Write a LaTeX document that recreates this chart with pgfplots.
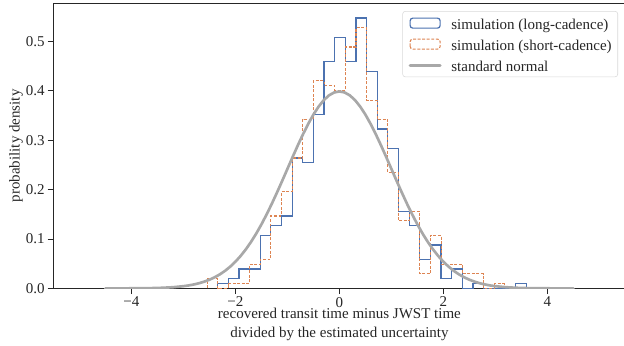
\documentclass[border=0pt]{standalone}
\usepackage{fontspec}
\setmainfont{Liberation Serif}
\usepackage{pgfplots}
\pgfplotsset{compat=1.18}
\usetikzlibrary{calc}
\definecolor{sblue}{HTML}{4C72B0}
\definecolor{sorange}{HTML}{DD8452}
\definecolor{sgray}{HTML}{A8A8A8}
\definecolor{spine}{HTML}{262626}
\pgfplotsset{
  boxlegend/.style={legend image code/.code={\draw[##1, sharp plot] (0pt,-3.75pt) rectangle (22.5pt,3.75pt);}},
  linelegend/.style={legend image code/.code={\draw[##1, line width=2.2pt] (0pt,0pt) -- (22.5pt,0pt);}},
}
\begin{document}
\fontsize{11.25pt}{15.75pt}\selectfont
\begin{tikzpicture}
\begin{axis}[
  scale only axis, width=429pt, height=213.75pt,
  xmin=-5.5, xmax=5.5, ymin=0, ymax=0.5775,
  axis line style={draw=spine, line width=0.75pt},
  tick style={draw=spine, line width=0.75pt},
  tick align=outside, tick pos=left, major tick length=4.3pt,
  xtick={-4,-2,0,2,4}, xticklabels={−4,−2,0,2,4},
  ytick={0,0.1,0.2,0.3,0.4,0.5}, yticklabels={0.0,0.1,0.2,0.3,0.4,0.5},
  xticklabel style={text=spine, inner sep=0pt, yshift=-2pt},
  yticklabel style={text=spine, inner sep=0pt, xshift=-2pt},
  xlabel={recovered transit time minus JWST time\\divided by the estimated uncertainty},
  xlabel style={align=center, text=spine, inner sep=0pt, font=\fontsize{11.25pt}{14pt}\selectfont,
    at={(axis description cs:0.5,-0.1265)}, anchor=center},
  ylabel={probability density},
  ylabel style={text=spine, at={(axis description cs:-0.0652,0.5)}, anchor=center},
  legend cell align=left,
  legend style={at={(axis description cs:1,1)}, anchor=north east, xshift=-5.6pt, yshift=-5.8pt,
    draw=gray!30, rounded corners=2pt, fill=white, inner xsep=4.5pt, inner ysep=2.5pt,
    row sep=3pt, column sep=7.3pt, text=spine, nodes={inner sep=0pt}},
]
\addplot[const plot, draw=sblue, line width=0.9pt, boxlegend]
coordinates {
(-2.34,0) (-2.34,0.0098) (-2.1355,0.0196) (-1.931,0.0391) (-1.7265,0.0391) (-1.522,0.1076)
(-1.3175,0.1271) (-1.113,0.1467) (-0.9085,0.2641) (-0.704,0.2543) (-0.4995,0.3521)
(-0.295,0.4597) (-0.0905,0.5086) (0.114,0.4597) (0.3185,0.5477) (0.523,0.4401)
(0.7275,0.3227) (0.932,0.2836) (1.1365,0.1565) (1.341,0.1271) (1.5455,0.0587)
(1.75,0.0880) (1.9545,0.0196) (2.159,0.0391) (2.3635,0) (2.568,0.0098) (2.7725,0)
(3.386,0.0098) (3.5905,0.0098) (3.5905,0)
};
\addlegendentry{\strut simulation (long-cadence)}
\addplot[const plot, draw=sorange, line width=0.8pt, dash pattern=on 2.2pt off 1.2pt, boxlegend]
coordinates {
(-2.5445,0) (-2.5445,0.0196) (-2.34,0) (-2.1355,0.0098) (-1.931,0.0098) (-1.7265,0.0489)
(-1.522,0.0587) (-1.3175,0.1467) (-1.113,0.1956) (-0.9085,0.2641) (-0.704,0.3423)
(-0.4995,0.4205) (-0.295,0.4108) (-0.0905,0.4010) (0.114,0.4890) (0.3185,0.5281)
(0.523,0.3814) (0.7275,0.3423) (0.932,0.2347) (1.1365,0.1369) (1.341,0.1565)
(1.5455,0.0293) (1.75,0.1076) (1.9545,0.0489) (2.159,0.0489) (2.3635,0.0293)
(2.568,0.0293) (2.7725,0) (2.977,0.0098) (3.1815,0.0098) (3.1815,0)
};
\addlegendentry{\strut simulation (short-cadence)}
\addplot[draw=sgray, line width=2pt, line cap=round, linelegend]
coordinates {
(-4.5,0.000016) (-4.2,0.000059) (-4.0,0.000134) (-3.8,0.000292) (-3.6,0.000612)
(-3.4,0.001232) (-3.2,0.002384) (-3.0,0.004432) (-2.9,0.005953) (-2.8,0.007915)
(-2.7,0.010421) (-2.6,0.013583) (-2.5,0.017528) (-2.4,0.022395) (-2.3,0.028327)
(-2.2,0.035475) (-2.1,0.043984) (-2.0,0.053991) (-1.9,0.065616) (-1.8,0.078950)
(-1.7,0.094049) (-1.6,0.110921) (-1.5,0.129518) (-1.4,0.149727) (-1.3,0.171369)
(-1.2,0.194186) (-1.1,0.217852) (-1.0,0.241971) (-0.9,0.266085) (-0.8,0.289692)
(-0.7,0.312254) (-0.6,0.333225) (-0.5,0.352065) (-0.4,0.368270) (-0.3,0.381388)
(-0.2,0.391043) (-0.1,0.396953) (0,0.398942) (0.1,0.396953) (0.2,0.391043)
(0.3,0.381388) (0.4,0.368270) (0.5,0.352065) (0.6,0.333225) (0.7,0.312254)
(0.8,0.289692) (0.9,0.266085) (1.0,0.241971) (1.1,0.217852) (1.2,0.194186)
(1.3,0.171369) (1.4,0.149727) (1.5,0.129518) (1.6,0.110921) (1.7,0.094049)
(1.8,0.078950) (1.9,0.065616) (2.0,0.053991) (2.1,0.043984) (2.2,0.035475)
(2.3,0.028327) (2.4,0.022395) (2.5,0.017528) (2.6,0.013583) (2.7,0.010421)
(2.8,0.007915) (2.9,0.005953) (3.0,0.004432) (3.2,0.002384) (3.4,0.001232)
(3.6,0.000612) (3.8,0.000292) (4.0,0.000134) (4.2,0.000059) (4.5,0.000016)
};
\addlegendentry{\strut standard normal}
\end{axis}
\pgfresetboundingbox
\useasboundingbox ($(current axis.south west)+(-40pt,-42.5pt)$) rectangle ($(current axis.north east)+(-1.1pt,2.5pt)$);
\end{tikzpicture}
\end{document}
